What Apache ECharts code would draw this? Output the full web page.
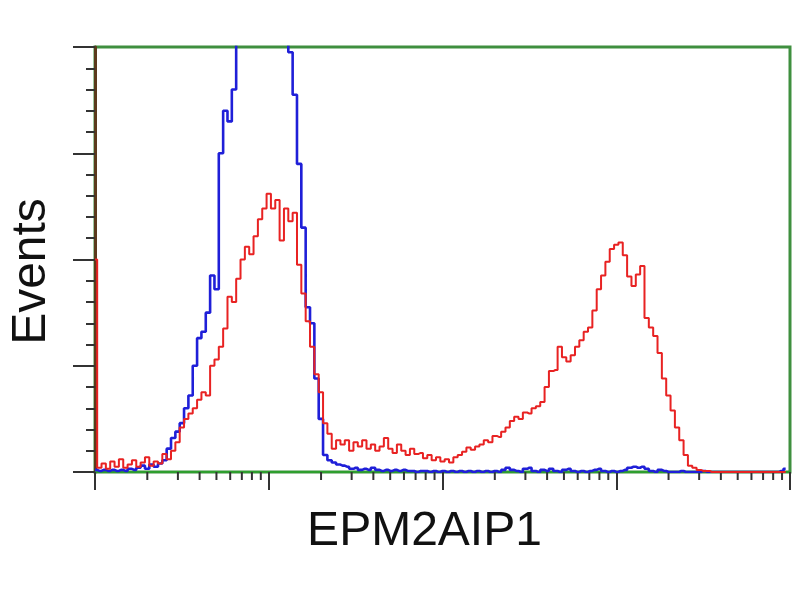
<!DOCTYPE html>
<html>
<head>
<meta charset="utf-8">
<script src="https://cdn.jsdelivr.net/npm/echarts@6/dist/echarts.min.js"></script>
<style>html,body{margin:0;padding:0;background:#fff}#c{width:800px;height:600px}</style>
</head>
<body>
<div id="c"></div>
<script>
// Histogram channels: 40 bins per decade, 4 decades (log fluorescence)
const binsPerDecade = 40;
const decades = 4;
const xTitle = 'EPM2AIP1';
const yTitle = 'Events';
const yMax = 400;
const yStep = 100;

// Control (blue) counts per bin
const blueCounts = [
  2,1,2,1,2,1,2,1,3,2,
  4,6,3,7,5,8,11,22,32,38,
  46,60,72,100,126,132,150,185,172,300,
  340,330,360,410,450,490,520,550,570,580,
  590,580,570,540,470,395,355,290,230,155,
  140,88,50,16,11,9,7,6,5,3,
  4,2,3,2,4,2,1,2,1,2,
  1,2,1,1,0,1,1,0,1,0,
  1,0,1,0,1,0,1,0,1,0,
  1,0,1,0,2,4,2,1,0,3,
  4,1,0,2,1,3,1,0,2,3,
  1,0,1,0,1,2,3,1,0,1,
  0,1,2,4,5,4,5,3,1,0,
  2,1,0,0,0,1,0,0,0,0,
  1,0,0,0,0,0,0,0,0,0,
  0,0,0,0,0,0,0,0,1,3
];

// EPM2AIP1-transfected (red) counts per bin
const redCounts = [
  200,4,8,3,10,5,12,4,7,11,
  5,9,14,6,10,8,17,12,20,28,
  42,50,55,60,68,75,72,100,106,118,
  135,165,160,182,200,212,205,222,238,248,
  262,248,256,218,248,236,244,195,168,142,
  118,92,75,46,36,22,30,26,30,20,
  28,24,30,22,26,20,24,32,22,18,
  26,20,16,22,17,18,13,16,11,14,
  10,12,9,14,16,19,23,21,24,26,
  30,28,34,33,38,42,48,52,50,56,
  55,60,62,66,80,95,96,118,108,104,
  110,118,124,132,136,152,172,185,198,210,
  214,216,204,184,175,186,194,145,136,128,
  112,88,72,58,42,30,16,6,4,2,
  1,1,0,0,0,0,0,0,0,0,
  0,0,0,0,0,0,0,0,0,0
];

// minor log ticks (2..9 within each decade)
const minorMultipliers = [2,3,4,5,6,7,8,9];

const toPoints = arr => arr.map((v, i) => [i / binsPerDecade, v]);
const minorTicks = [];
for (let d = 0; d < decades; d++) {
  for (const m of minorMultipliers) minorTicks.push([d + Math.log10(m)]);
}

const chart = echarts.init(document.getElementById('c'), null, {renderer: 'canvas'});
chart.setOption({
  animation: false,
  backgroundColor: '#ffffff',
  grid: {left: 95, right: 10, top: 47, bottom: 128, show: true, containLabel: false,
         outerBoundsMode: 'none',
         borderColor: '#3f8f3f', borderWidth: 3, backgroundColor: 'transparent'},
  xAxis: {
    type: 'value', min: 0, max: decades, interval: 1,
    name: xTitle, nameLocation: 'middle', nameGap: 36,
    nameTextStyle: {fontFamily: 'Liberation Sans', fontSize: 48, color: '#111', padding: [0, 36, 0, 0]},
    axisLine: {show: true, lineStyle: {color: '#2e9e2e', width: 2}},
    axisTick: {show: true, length: 18, lineStyle: {color: '#333', width: 2}},
    axisLabel: {show: false},
    splitLine: {show: false}
  },
  yAxis: {
    type: 'value', min: 0, max: yMax, interval: yStep,
    name: yTitle, nameLocation: 'middle', nameGap: 39, nameRotate: 90,
    nameTextStyle: {fontFamily: 'Liberation Sans', fontSize: 48, color: '#111', padding: [0, 24, 0, 0]},
    axisLine: {show: true, lineStyle: {color: '#5b3a1c', width: 3}},
    axisTick: {show: true, length: 22, lineStyle: {color: '#333', width: 2}},
    minorTick: {show: true, splitNumber: 5, length: 9, lineStyle: {color: '#333', width: 2}},
    axisLabel: {show: false},
    splitLine: {show: false}
  },
  series: [
    {
      type: 'custom', clip: false, silent: true, z: 1,
      data: minorTicks,
      renderItem: (params, api) => {
        const p = api.coord([api.value(0), 0]);
        return {type: 'line', shape: {x1: p[0], y1: p[1], x2: p[0], y2: p[1] + 8},
                style: {stroke: '#333', lineWidth: 2}};
      }
    },
    {
      type: 'line', step: 'middle', showSymbol: false, symbol: 'none',
      data: toPoints(blueCounts),
      lineStyle: {color: '#1f1fd8', width: 2.6}, z: 3
    },
    {
      type: 'line', step: 'middle', showSymbol: false, symbol: 'none',
      data: toPoints(redCounts),
      lineStyle: {color: '#e82222', width: 2}, z: 4
    }
  ]
});
</script>
</body>
</html>
